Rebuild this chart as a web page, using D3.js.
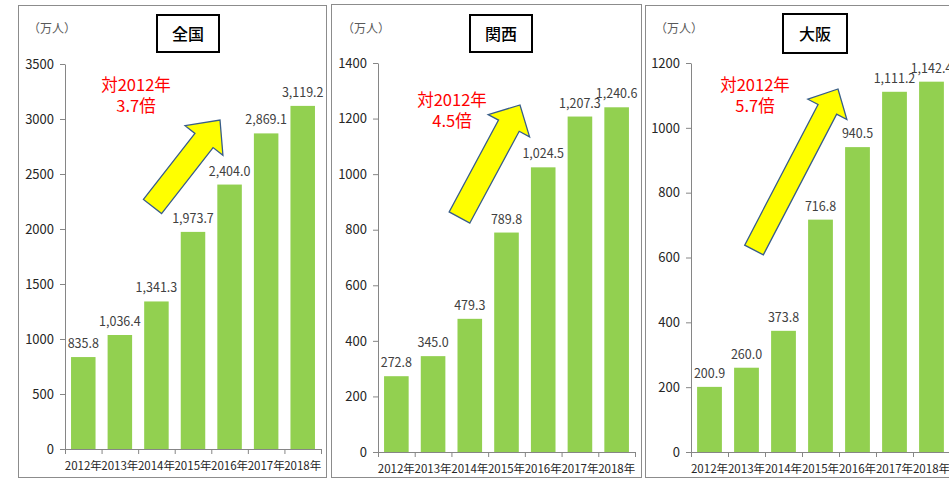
<!DOCTYPE html>
<html lang="ja">
<head>
  <meta charset="UTF-8">
  <title>訪日外国人客数 全国・関西・大阪</title>
  <script src="https://cdnjs.cloudflare.com/ajax/libs/d3/7.8.5/d3.min.js"></script>
  <style>
    body { margin: 0; background: #fff; }
    svg { display: block; }
    text { font-family: "Noto Sans CJK JP", "Noto Sans", sans-serif; }
  </style>
</head>
<body>
  <svg id="chart" width="949" height="479"></svg>
  <script>
    // データ（万人）
    const years = ["2012年", "2013年", "2014年", "2015年", "2016年", "2017年", "2018年"];
    const zenkoku = [835.8, 1036.4, 1341.3, 1973.7, 2404.0, 2869.1, 3119.2];
    const kansai = [272.8, 345.0, 479.3, 789.8, 1024.5, 1207.3, 1240.6];
    const osaka = [200.9, 260.0, 373.8, 716.8, 940.5, 1111.2, 1142.4];
    const titles = ["全国", "関西", "大阪"];
    const ratios = ["3.7倍", "4.5倍", "5.7倍"];
    const ticksZenkoku = [0, 500, 1000, 1500, 2000, 2500, 3000, 3500];
    const ticksKansai = [0, 200, 400, 600, 800, 1000, 1200, 1400];
    const ticksOsaka = [0, 200, 400, 600, 800, 1000, 1200];

    // 配置
    const panels = [
      { values: zenkoku, ticks: ticksZenkoku, frame: [18, 5, 326, 477], x: [65, 321], y: [449, 64],
        box: [157, 15, 62, 37], unitX: 28, note: [136, 91],
        arrow: { tail: [152.5, 206.5], tip: [220, 120], sw: 23, hw: 48, hl: 26 } },
      { values: kansai, ticks: ticksKansai, frame: [331, 4, 641, 477], x: [378, 635], y: [452, 63],
        box: [470, 15, 62, 37], unitX: 342, note: [452, 106],
        arrow: { tail: [459.5, 217.5], tip: [520, 105], sw: 23.5, hw: 47, hl: 23.5 } },
      { values: osaka, ticks: ticksOsaka, frame: [645, 5, 960, 477], x: [691, 950], y: [452, 63],
        box: [783, 14, 64, 39], unitX: 655, note: [755, 91],
        arrow: { tail: [754, 250], tip: [838, 89], sw: 21, hw: 44, hl: 23 } }
    ];

    const svg = d3.select("#chart");

    function arrowPoints(a) {
      const dx = a.tip[0] - a.tail[0], dy = a.tip[1] - a.tail[1];
      const len = Math.hypot(dx, dy);
      const ux = dx / len, uy = dy / len;
      const nx = -uy, ny = ux;
      const bx = a.tip[0] - ux * a.hl, by = a.tip[1] - uy * a.hl;
      const p = (cx, cy, w) => [cx + nx * w, cy + ny * w];
      return [
        p(a.tail[0], a.tail[1], a.sw / 2),
        p(bx, by, a.sw / 2),
        p(bx, by, a.hw / 2),
        a.tip,
        p(bx, by, -a.hw / 2),
        p(bx, by, -a.sw / 2),
        p(a.tail[0], a.tail[1], -a.sw / 2)
      ];
    }

    panels.forEach((p, k) => {
      const g = svg.append("g");
      const [fx0, fy0, fx1, fy1] = p.frame;

      g.append("rect")
        .attr("x", fx0 + 0.5).attr("y", fy0 + 0.5)
        .attr("width", fx1 - fx0).attr("height", fy1 - fy0)
        .attr("fill", "none").attr("stroke", "#8c8c8c");

      const x = d3.scaleBand().domain(years).range(p.x)
        .paddingInner(0.33).paddingOuter(0.165);
      const y = d3.scaleLinear().domain([0, d3.max(p.ticks)]).range(p.y);

      // 縦軸
      const yAxis = g.append("g")
        .attr("transform", `translate(${p.x[0]},0)`)
        .call(d3.axisLeft(y).tickValues(p.ticks).tickFormat(d3.format("d"))
          .tickSize(5).tickSizeOuter(0).tickPadding(6));
      yAxis.select(".domain").attr("stroke", "#868686");
      yAxis.selectAll(".tick line").attr("stroke", "#868686");
      yAxis.selectAll(".tick text")
        .attr("font-family", "'Noto Sans', sans-serif")
        .attr("font-size", 13).attr("fill", "#262626");

      // 棒
      g.selectAll("rect.bar")
        .data(p.values)
        .enter()
        .append("rect")
        .attr("class", "bar")
        .attr("x", (d, i) => x(years[i]))
        .attr("y", d => y(d))
        .attr("width", x.bandwidth())
        .attr("height", d => y(0) - y(d))
        .attr("fill", "#92d050");

      // 数値ラベル
      g.selectAll("text.val")
        .data(p.values)
        .enter()
        .append("text")
        .attr("class", "val")
        .attr("x", (d, i) => x(years[i]) + x.bandwidth() / 2)
        .attr("y", d => y(d) - 9)
        .attr("text-anchor", "middle")
        .attr("font-family", "'Noto Sans', sans-serif")
        .attr("font-size", 12.5)
        .attr("fill", "#404040")
        .text(d => d3.format(",.1f")(d));

      // 横軸
      g.append("line")
        .attr("x1", p.x[0]).attr("x2", p.x[1])
        .attr("y1", y(0) + 0.5).attr("y2", y(0) + 0.5)
        .attr("stroke", "#868686");
      g.selectAll("line.xt")
        .data(d3.range(years.length + 1))
        .enter()
        .append("line")
        .attr("class", "xt")
        .attr("x1", i => p.x[0] + i * x.step() + 0.5)
        .attr("x2", i => p.x[0] + i * x.step() + 0.5)
        .attr("y1", y(0)).attr("y2", y(0) + 5)
        .attr("stroke", "#868686");
      g.selectAll("text.year")
        .data(years)
        .enter()
        .append("text")
        .attr("class", "year")
        .attr("x", d => x(d) + x.bandwidth() / 2)
        .attr("y", y(0) + 21)
        .attr("text-anchor", "middle")
        .attr("font-size", 11.5)
        .attr("fill", "#262626")
        .text(d => d);

      // 単位
      g.append("text")
        .attr("x", p.unitX).attr("y", 33)
        .attr("font-size", 12).attr("fill", "#595959")
        .text("（万人）");

      // タイトル
      const [bx, by, bw, bh] = p.box;
      g.append("rect")
        .attr("x", bx).attr("y", by).attr("width", bw).attr("height", bh)
        .attr("fill", "#fff").attr("stroke", "#000").attr("stroke-width", 2);
      g.append("text")
        .attr("x", bx + bw / 2).attr("y", by + bh / 2 + 6)
        .attr("text-anchor", "middle")
        .attr("font-size", 16).attr("font-weight", 500)
        .text(titles[k]);

      // 矢印
      g.append("polygon")
        .attr("points", arrowPoints(p.arrow).map(q => q.join(",")).join(" "))
        .attr("fill", "#ffff00")
        .attr("stroke", "#385d8a")
        .attr("stroke-width", 1.3)
        .attr("stroke-linejoin", "miter");

      // 倍率
      g.selectAll("text.note")
        .data(["対2012年", ratios[k]])
        .enter()
        .append("text")
        .attr("class", "note")
        .attr("x", p.note[0])
        .attr("y", (d, i) => p.note[1] + i * 21)
        .attr("text-anchor", "middle")
        .attr("font-size", 16.5)
        .attr("fill", "#ff0000")
        .text(d => d);
    });
  </script>
</body>
</html>
